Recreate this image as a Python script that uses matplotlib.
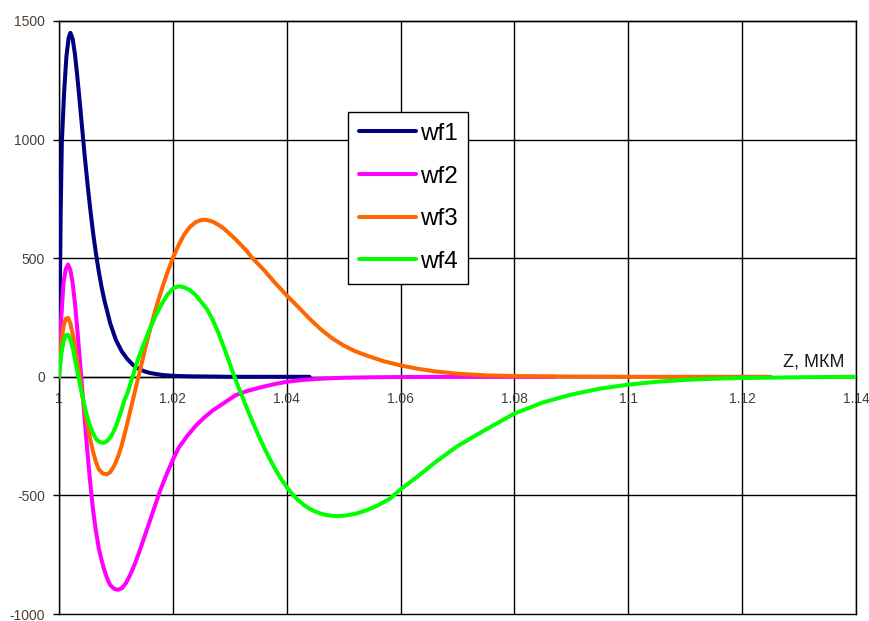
import matplotlib
matplotlib.use('Agg')
import matplotlib.pyplot as plt

plt.rcParams['font.family'] = ['Liberation Sans', 'DejaVu Sans']
plt.rcParams['axes.unicode_minus'] = False

# wave functions along z (um)
z1 = [1.0, 1.0003, 1.0005, 1.0009, 1.0013, 1.0017, 1.002, 1.0024, 1.0028, 1.0032,
      1.0036, 1.004, 1.0045, 1.005, 1.0055, 1.006, 1.0065, 1.007, 1.0075, 1.008,
      1.009, 1.01, 1.011, 1.012, 1.013, 1.014, 1.015, 1.016, 1.018, 1.02,
      1.023, 1.027, 1.03, 1.044]
wf1 = [0, 700, 990, 1200, 1350, 1430, 1450, 1425, 1360, 1270,
       1170, 1065, 935, 815, 705, 605, 518, 442, 376, 320,
       225, 155, 108, 75, 50, 34, 23, 16, 8, 4,
       2, 1, 0, 0]

z2 = [1.0, 1.0004, 1.0008, 1.0012, 1.0016, 1.002, 1.0024, 1.0028, 1.0032, 1.0036,
      1.004, 1.0045, 1.005, 1.0055, 1.006, 1.0065, 1.007, 1.0075, 1.008, 1.0085,
      1.009, 1.0097, 1.0104, 1.0111, 1.0118, 1.0125, 1.0133, 1.0144, 1.0155, 1.0167,
      1.0178, 1.019, 1.02, 1.021, 1.0225, 1.024, 1.0255, 1.027, 1.029, 1.031,
      1.033, 1.0355, 1.038, 1.04, 1.043, 1.046, 1.05, 1.055, 1.06, 1.07, 1.087]
wf2 = [0, 250, 400, 455, 473, 450, 395, 310, 205, 90,
       -30, -175, -320, -450, -565, -652, -725, -775, -818, -853,
       -878, -894, -898, -890, -868, -835, -790, -718, -640, -555,
       -478, -405, -350, -300, -250, -207, -172, -142, -110, -78,
       -60, -44, -30, -21, -13, -8, -4, -2, -1, 0, 0]

z3 = [1.0, 1.0004, 1.0008, 1.0012, 1.0016, 1.002, 1.0025, 1.003, 1.0035, 1.004,
      1.0045, 1.005, 1.0055, 1.006, 1.0065, 1.007, 1.0077, 1.0084, 1.009, 1.0097,
      1.0104, 1.011, 1.0117, 1.0124, 1.0131, 1.0138, 1.0145, 1.0152, 1.016, 1.0168,
      1.0176, 1.0184, 1.0192, 1.02, 1.021, 1.022, 1.023, 1.024, 1.025, 1.0256,
      1.026, 1.027, 1.028, 1.029, 1.031, 1.033, 1.0338, 1.036, 1.038, 1.04,
      1.042, 1.044, 1.046, 1.048, 1.05, 1.052, 1.054, 1.057, 1.06, 1.063,
      1.066, 1.07, 1.075, 1.08, 1.09, 1.1, 1.125]
wf3 = [0, 140, 215, 245, 248, 225, 170, 100, 20, -60,
       -135, -205, -265, -318, -360, -390, -408, -411, -402, -375,
       -335, -290, -225, -155, -85, -15, 55, 125, 200, 270,
       335, 395, 450, 500, 555, 600, 632, 652, 661, 662,
       661, 654, 641, 624, 580, 530, 505, 450, 395, 343,
       295, 245, 200, 162, 132, 108, 90, 66, 48, 34,
       23, 13, 6, 3, 1, 0, 0]

z4 = [1.0, 1.0004, 1.0008, 1.0012, 1.0016, 1.002, 1.0025, 1.003, 1.0034, 1.004,
      1.0045, 1.005, 1.0055, 1.006, 1.0065, 1.007, 1.0076, 1.008, 1.0085, 1.009,
      1.0095, 1.01, 1.0105, 1.011, 1.0115, 1.012, 1.0125, 1.013, 1.0135, 1.014,
      1.015, 1.016, 1.017, 1.018, 1.019, 1.02, 1.021, 1.022, 1.023, 1.024,
      1.025, 1.026, 1.027, 1.028, 1.029, 1.03, 1.031, 1.032, 1.033, 1.034,
      1.035, 1.036, 1.037, 1.038, 1.039, 1.04, 1.041, 1.042, 1.043, 1.044,
      1.045, 1.046, 1.047, 1.048, 1.049, 1.05, 1.052, 1.054, 1.056, 1.058,
      1.06, 1.063, 1.066, 1.07, 1.075, 1.08, 1.085, 1.09, 1.095, 1.1,
      1.105, 1.11, 1.115, 1.12, 1.13, 1.14]
wf4 = [0, 95, 150, 175, 177, 158, 112, 50, 0, -70,
       -125, -172, -210, -240, -261, -273, -278, -277, -270, -256,
       -235, -208, -175, -138, -97, -70, -32, 5, 45, 82,
       145, 205, 258, 305, 345, 372, 382, 377, 365, 345,
       315, 285, 240, 185, 122, 55, -12, -72, -132, -190,
       -245, -297, -345, -390, -430, -465, -495, -520, -540, -556,
       -568, -577, -583, -586, -587, -586, -578, -563, -542, -516,
       -475, -420, -362, -292, -222, -155, -108, -75, -50, -33,
       -21, -13, -8, -5, -2, 0]

series = [(z1, wf1, 'wf1', '#000080'),
          (z2, wf2, 'wf2', '#FF00FF'),
          (z3, wf3, 'wf3', '#FF6600'),
          (z4, wf4, 'wf4', '#00FF00')]

xticks = [1.0, 1.02, 1.04, 1.06, 1.08, 1.1, 1.12, 1.14]
xticklabels = ['1', '1.02', '1.04', '1.06', '1.08', '1.1', '1.12', '1.14']
yticks = [-1000, -500, 0, 500, 1000, 1500]

text_color = '#4a3f35'

fig = plt.figure(figsize=(8.7, 6.21), dpi=100)
ax = fig.add_axes([59 / 870, 7 / 621, 797 / 870, 593 / 621])

for z, wf, name, color in series:
    ax.plot(z, wf, color=color, lw=2.9, label=name, solid_capstyle='round', zorder=3)

ax.set_xlim(1.0, 1.14)
ax.set_ylim(-1000, 1500)

# black grid, the lines at the limits drawn in full
ax.set_xticks(xticks)
ax.set_xticklabels(xticklabels)
ax.set_yticks(yticks)
ax.grid(True, color='black', lw=1.0)
for gl in ax.get_xgridlines() + ax.get_ygridlines():
    gl.set_clip_on(False)

# x axis runs along zero
ax.spines['bottom'].set_position(('data', 0))
for sp in ax.spines.values():
    sp.set_linewidth(1.0)
    sp.set_color('black')

ax.tick_params(axis='x', length=0, pad=11, labelsize=10, labelcolor=text_color)
ax.tick_params(axis='y', direction='out', length=4, width=1.0, pad=6,
               labelsize=10, labelcolor=text_color)

ax.text(1.1272, 28, 'Z, МКМ', fontsize=13, color='#1a1a1a',
        ha='left', va='bottom')

leg = ax.legend(loc='upper left', bbox_to_anchor=(348 / 870, 1 - 112 / 621),
                bbox_transform=fig.transFigure, fontsize=17.5, frameon=True,
                fancybox=False, handlelength=2.35, handletextpad=0.15,
                labelspacing=0.85, borderpad=0.45, borderaxespad=0)
leg.get_frame().set_edgecolor('black')
leg.get_frame().set_linewidth(1.0)
leg.get_frame().set_alpha(1)
leg.set_zorder(5)

fig.savefig('out.png', dpi=100)
